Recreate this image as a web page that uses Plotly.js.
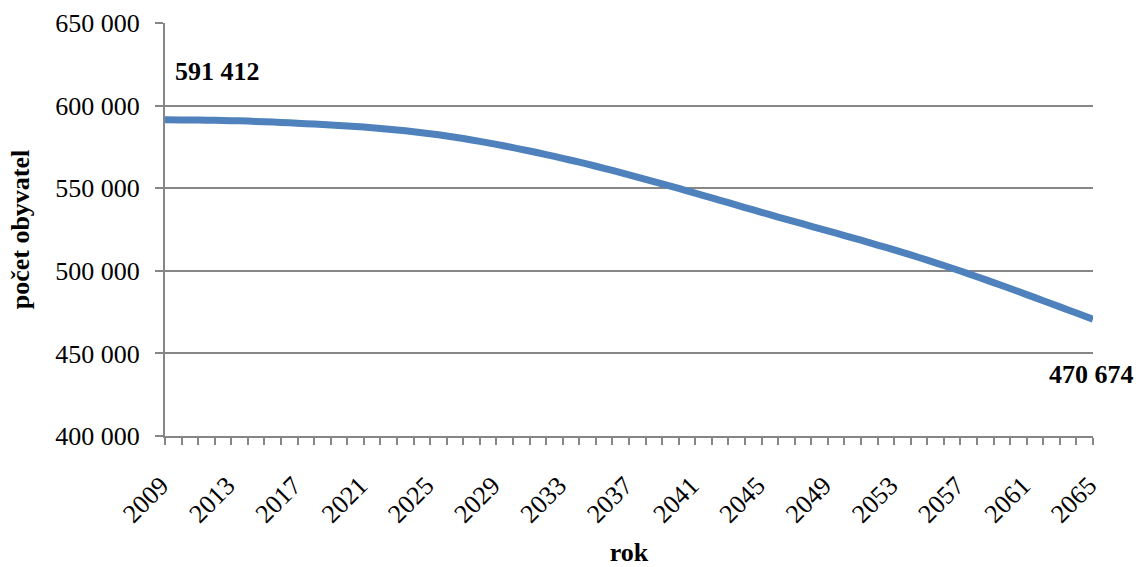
<!DOCTYPE html>
<html>
<head>
<meta charset="utf-8">
<script src="https://cdn.plot.ly/plotly-3.0.1.min.js"></script>
<style>
  html, body { margin: 0; padding: 0; background: #ffffff; }
  #chart { width: 1136px; height: 567px; }
</style>
</head>
<body>
<div id="chart"></div>
<script>
// Projected population by year
const years = [
  2009, 2010, 2011, 2012, 2013, 2014, 2015, 2016, 2017, 2018,
  2019, 2020, 2021, 2022, 2023, 2024, 2025, 2026, 2027, 2028,
  2029, 2030, 2031, 2032, 2033, 2034, 2035, 2036, 2037, 2038,
  2039, 2040, 2041, 2042, 2043, 2044, 2045, 2046, 2047, 2048,
  2049, 2050, 2051, 2052, 2053, 2054, 2055, 2056, 2057, 2058,
  2059, 2060, 2061, 2062, 2063, 2064, 2065
];
const population = [
  591412, 591352, 591252, 591102, 590902, 590622, 590262, 589822, 589302, 588802,
  588252, 587652, 587002, 586202, 585252, 584202, 583002, 581602, 580052, 578352,
  576502, 574552, 572502, 570352, 568102, 565752, 563302, 560752, 558102, 555402,
  552652, 549852, 547002, 544102, 541202, 538302, 535402, 532552, 529752, 526952,
  524152, 521352, 518502, 515602, 512652, 509602, 506452, 503202, 499852, 496402,
  492852, 489252, 485602, 481902, 478152, 474402, 470674
];
const yTicks = [400000, 450000, 500000, 550000, 600000, 650000];
const yTickText = ['400 000', '450 000', '500 000', '550 000', '600 000', '650 000'];
const xTitle = 'rok';
const yTitle = 'počet obyvatel';

// Thousands separated by a space
const fmt = v => String(v).replace(/\B(?=(\d{3})+(?!\d))/g, ' ');

const serif = 'Liberation Serif, Times New Roman, serif';
const grey = '#868686';
const fs = 26;

const firstIdx = 0;
const lastIdx = population.length - 1;

const trace = {
  type: 'scatter',
  mode: 'lines',
  x: years,
  y: population,
  line: { color: '#4F81BD', width: 7, shape: 'spline', smoothing: 0.6 },
  hoverinfo: 'x+y',
  cliponaxis: false
};

const layout = {
  width: 1136,
  height: 567,
  margin: { l: 165, r: 43, t: 23, b: 131 },
  paper_bgcolor: '#ffffff',
  plot_bgcolor: '#ffffff',
  showlegend: false,
  font: { family: serif, size: fs, color: '#000000' },
  xaxis: {
    range: [years[0], years[lastIdx]],
    tickmode: 'linear',
    tick0: years[0],
    dtick: 4,
    tickangle: -45,
    ticks: 'outside',
    ticklen: 7,
    tickwidth: 1.5,
    tickcolor: grey,
    ticklabelstandoff: 15,
    ticklabelshift: -4,
    minor: { dtick: 1, tick0: years[0], ticks: 'outside', ticklen: 7, tickwidth: 1.5, tickcolor: grey, showgrid: false },
    showgrid: false,
    showline: true,
    linecolor: grey,
    linewidth: 2,
    zeroline: false,
    tickfont: { family: serif, size: fs, color: '#000000' },
    title: { text: xTitle, font: { family: serif, size: fs, color: '#000000', weight: 'bold' }, standoff: 22 },
    automargin: false
  },
  yaxis: {
    range: [yTicks[0], yTicks[yTicks.length - 1]],
    tickmode: 'array',
    tickvals: yTicks,
    ticktext: yTickText,
    ticks: 'outside',
    ticklen: 8,
    tickwidth: 1.5,
    tickcolor: grey,
    ticklabelstandoff: 10,
    showgrid: true,
    gridcolor: grey,
    gridwidth: 1.5,
    showline: true,
    linecolor: grey,
    linewidth: 2,
    zeroline: false,
    tickfont: { family: serif, size: fs, color: '#000000' },
    title: { text: yTitle, font: { family: serif, size: fs, color: '#000000', weight: 'bold' }, standoff: 18 },
    automargin: false
  },
  annotations: [
    {
      x: years[firstIdx], y: population[firstIdx], xref: 'x', yref: 'y',
      text: fmt(population[firstIdx]), showarrow: false,
      xanchor: 'left', yanchor: 'middle', xshift: 8, yshift: 48,
      font: { family: serif, size: fs, color: '#000000', weight: 'bold' }
    },
    {
      x: years[lastIdx], y: population[lastIdx], xref: 'x', yref: 'y',
      text: fmt(population[lastIdx]), showarrow: false,
      xanchor: 'center', yanchor: 'middle', xshift: -2, yshift: -55,
      font: { family: serif, size: fs, color: '#000000', weight: 'bold' }
    }
  ]
};

Plotly.newPlot('chart', [trace], layout, { displayModeBar: false, responsive: false });
</script>
</body>
</html>
